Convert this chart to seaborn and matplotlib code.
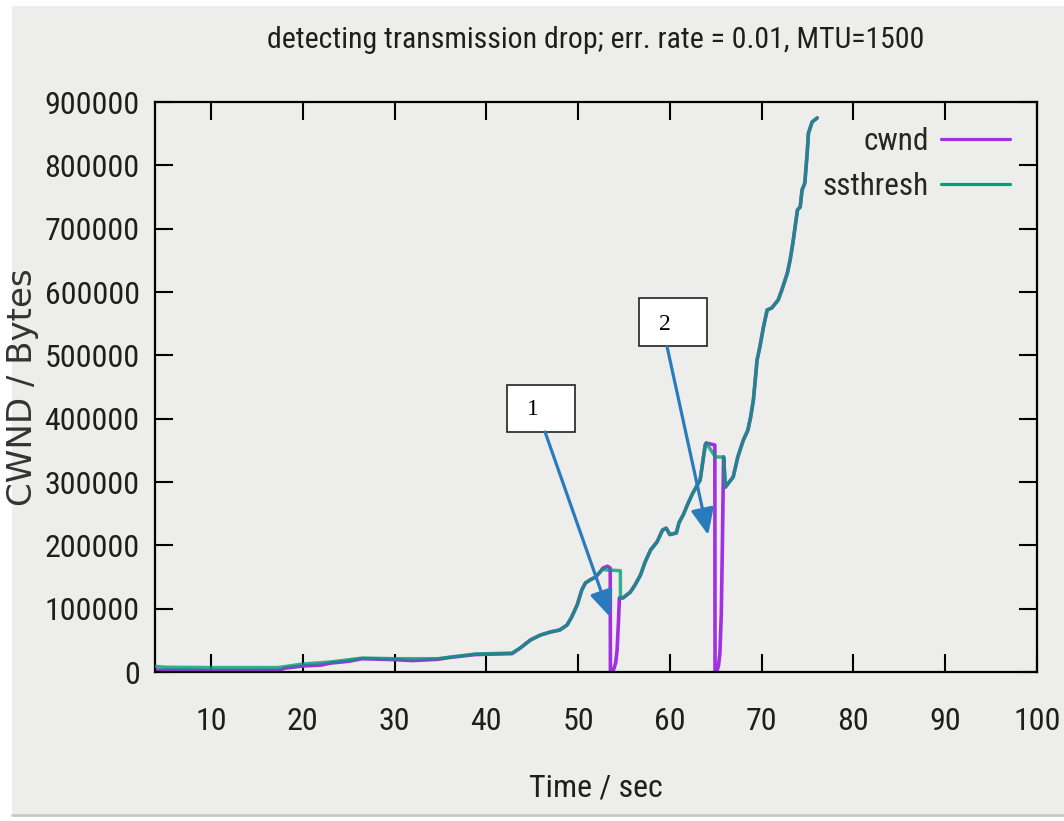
import matplotlib
matplotlib.use("Agg")
import matplotlib.pyplot as plt
from matplotlib.patches import Rectangle
from matplotlib.lines import Line2D
from matplotlib import font_manager
import seaborn as sns
import pandas as pd

# ---- data -------------------------------------------------------------
cwnd_time = [3.9, 6.0, 10.0, 14.0, 17.5, 18.0, 20.0, 22.0, 23.0, 25.0, 26.5,
             30.0, 32.0, 34.7, 36.0, 38.8, 40.0, 42.8, 43.7, 44.8, 45.9, 47.0,
             48.0, 48.8, 49.3, 49.9, 50.4, 50.8, 51.3, 51.9, 52.4, 52.7, 53.2,
             53.5, 53.52, 53.6, 53.75, 53.9, 54.1, 54.25, 54.4, 54.5, 54.9,
             55.7, 56.2, 56.8, 57.3, 57.9, 58.6, 59.2, 59.6, 60.0, 60.7, 61.0,
             61.45, 62.0, 62.5, 63.3, 63.85, 63.96, 64.9, 64.92, 65.0, 65.15,
             65.3, 65.45, 65.6, 65.72, 65.85, 66.05, 66.9, 67.4, 68.0, 68.5,
             68.8, 69.1, 69.5, 69.8, 70.2, 70.6, 71.1, 71.8, 72.2, 72.8, 73.1,
             73.4, 73.9, 74.2, 74.4, 74.7, 74.96, 75.1, 75.5, 76.05]
cwnd_bytes = [3000, 3000, 2500, 2500, 3000, 6000, 9500, 11000, 14000, 17000,
              21000, 19500, 18000, 20000, 23000, 27500, 28000, 29000, 37900,
              50500, 58400, 63200, 66300, 74200, 86900, 105800, 129500, 140600,
              145300, 150000, 158000, 164000, 167000, 164000, 0, 0, 1500, 5000,
              15000, 35000, 80000, 117000, 117000, 126300, 137400, 153200,
              173700, 192700, 205300, 224200, 227000, 217000, 219500, 236000,
              248000, 267000, 282600, 303200, 358400, 361600, 358400, 0, 0,
              3000, 10000, 30000, 90000, 200000, 339500, 292000, 308000,
              339500, 366000, 382000, 402600, 429500, 492600, 513000, 545000,
              571600, 574800, 587400, 603200, 630000, 650500, 677400, 729500,
              734200, 761000, 772000, 819500, 851000, 868500, 874800]

ssthresh_time = [3.9, 5.0, 10.0, 17.3, 20.0, 23.0, 26.5, 30.0, 34.7, 38.8,
                 42.8, 43.7, 44.8, 45.9, 47.0, 48.0, 48.8, 49.3, 49.9, 50.4,
                 50.8, 51.3, 51.9, 52.4, 52.7, 53.2, 54.6, 54.62, 54.9, 55.7,
                 56.2, 56.8, 57.3, 57.9, 58.6, 59.2, 59.6, 60.0, 60.7, 61.0,
                 61.45, 62.0, 62.5, 63.3, 63.85, 63.96, 64.96, 65.85, 66.05,
                 66.9, 67.4, 68.0, 68.5, 68.8, 69.1, 69.5, 69.8, 70.2, 70.6,
                 71.1, 71.8, 72.2, 72.8, 73.1, 73.4, 73.9, 74.2, 74.4, 74.7,
                 74.96, 75.1, 75.5, 76.05]
ssthresh_bytes = [9000, 7500, 7000, 7000, 12600, 15800, 22000, 21000, 21000,
                  28400, 30000, 37900, 50500, 58400, 63200, 66300, 74200, 86900,
                  105800, 129500, 140600, 145300, 150000, 158000, 162000, 161000,
                  160000, 117000, 117000, 126300, 137400, 153200, 173700, 192700,
                  205300, 224200, 227000, 217000, 219500, 236000, 248000, 267000,
                  282600, 303200, 358400, 361600, 339500, 339500, 292000, 308000,
                  339500, 366000, 382000, 402600, 429500, 492600, 513000, 545000,
                  571600, 574800, 587400, 603200, 630000, 650500, 677400, 729500,
                  734200, 761000, 772000, 819500, 851000, 868500, 874800]

x_ticks = [10, 20, 30, 40, 50, 60, 70, 80, 90, 100]
y_ticks = [0, 100000, 200000, 300000, 400000, 500000, 600000, 700000,
           800000, 900000]

# callout boxes: label, (t0, t1), (y0, y1), text anchor, arrow start, arrow tip
callouts = [
    ("1", (42.27, 49.68), (379000, 453200), (45.1, 413700),
     (46.4, 379000), (53.49, 86800)),
    ("2", (56.66, 64.07), (514600, 590400), (59.5, 548000),
     (59.7, 513200), (64.17, 216300)),
]

# ---- style ------------------------------------------------------------
sns.set_style("ticks")

# pick a condensed sans face if one is available
fonts = font_manager.fontManager.ttflist
names = {f.name for f in fonts}
narrow_family, narrow_stretch = "DejaVu Sans", "normal"
for cand in ["Liberation Sans Narrow", "Roboto Condensed", "Open Sans Condensed",
             "Noto Sans Condensed", "DejaVu Sans Condensed"]:
    if cand in names:
        narrow_family = cand
        break
else:
    for fam in ["DejaVu Sans", "Noto Sans", "Open Sans", "Roboto", "Inter"]:
        if any(f.name == fam and f.stretch in ("condensed", "semi-condensed",
                                                 "extra-condensed")
               for f in fonts):
            narrow_family, narrow_stretch = fam, "condensed"
            break

plt.rcParams["font.family"] = [narrow_family, "DejaVu Sans"]
plt.rcParams["font.stretch"] = narrow_stretch

BG = "#ededeb"
CWND_COLOR = "#a030e0"
SSTH_COLOR = "#009e73"
ARROW_COLOR = "#2a7bbd"
TXT = "#1e1e1e"

fig = plt.figure(figsize=(10.64, 8.21), dpi=100, facecolor=BG)

# white margins around the plotting window
W, H = 1064, 821
for (x0, y0, w, h) in [(0, 0, 12, H), (0, 0, W, 6), (0, H - 6, W, 6)]:
    fig.patches.append(Rectangle((x0 / W, y0 / H), w / W, h / H,
                                 transform=fig.transFigure, facecolor="white",
                                 edgecolor="none", zorder=-5))
fig.add_artist(Line2D([12 / W, 1], [6.5 / H, 6.5 / H], transform=fig.transFigure,
                      color="#c8c8c8", lw=2))

ax = fig.add_axes([155 / W, (H - 672) / H, (1037 - 155) / W, (672 - 102) / H])
ax.set_facecolor(BG)

cw = pd.DataFrame({"t": cwnd_time, "v": cwnd_bytes})
ss = pd.DataFrame({"t": ssthresh_time, "v": ssthresh_bytes})

sns.lineplot(data=cw, x="t", y="v", ax=ax, color=CWND_COLOR, lw=2.6,
             estimator=None, sort=False, label="cwnd", zorder=2)
sns.lineplot(data=ss, x="t", y="v", ax=ax, color=SSTH_COLOR, lw=2.5,
             alpha=0.78, estimator=None, sort=False, label="ssthresh", zorder=3)

ax.set_xlim(3.9, 100)
ax.set_ylim(0, 900000)
ax.set_xticks(x_ticks)
ax.set_yticks(y_ticks)
ax.set_xticklabels([str(v) for v in x_ticks])
ax.set_yticklabels([str(v) for v in y_ticks])

for s in ax.spines.values():
    s.set_visible(True)
    s.set_color("black")
    s.set_linewidth(1.6)

ax.tick_params(axis="both", which="major", direction="in", length=13,
               width=1.5, color="black", top=True, right=True,
               labelsize=23, labelcolor=TXT)
ax.tick_params(axis="x", pad=25)
ax.tick_params(axis="y", pad=11)

ax.set_xlabel("Time / sec", fontsize=23, color=TXT)
ax.xaxis.set_label_coords(0.5, (672 - 788) / 570)
ax.xaxis.label.set_va("center")
ax.set_ylabel("CWND / Bytes", fontsize=24.5, color="#333333",
              family="DejaVu Sans", stretch="normal")
ax.yaxis.set_label_coords((23 - 155) / 882, 0.5)
ax.yaxis.label.set_va("center")

ax.text(0.5, (672 - 40) / 570,
        "detecting transmission drop; err. rate = 0.01, MTU=1500",
        transform=ax.transAxes, ha="center", va="center", fontsize=21.5,
        color=TXT)

leg = ax.legend(loc="upper right", bbox_to_anchor=(1010 / W, 1 - 127 / H),
                bbox_transform=fig.transFigure, frameon=False, fontsize=22.5,
                markerfirst=False, handlelength=2.2, handletextpad=0.4,
                labelspacing=0.5, borderpad=0, borderaxespad=0)
for h in leg.get_lines():
    h.set_alpha(1)
    h.set_linewidth(2.3)

# numbered callouts with arrows
for label, (t0, t1), (y0, y1), (tx, ty), start, tip in callouts:
    ax.add_patch(Rectangle((t0, y0), t1 - t0, y1 - y0, facecolor="white",
                           edgecolor="#222222", lw=1.2, zorder=6))
    ax.text(tx, ty, label, family="Liberation Serif", stretch="normal",
            fontsize=17, ha="center", va="center", color="black", zorder=7)
    ax.annotate("", xy=tip, xytext=start, zorder=8,
                arrowprops=dict(arrowstyle="-|>,head_length=0.8,head_width=0.35",
                                mutation_scale=20, color=ARROW_COLOR, lw=2.3,
                                shrinkA=0, shrinkB=0))

fig.savefig("out.png", dpi=100, facecolor=fig.get_facecolor())
